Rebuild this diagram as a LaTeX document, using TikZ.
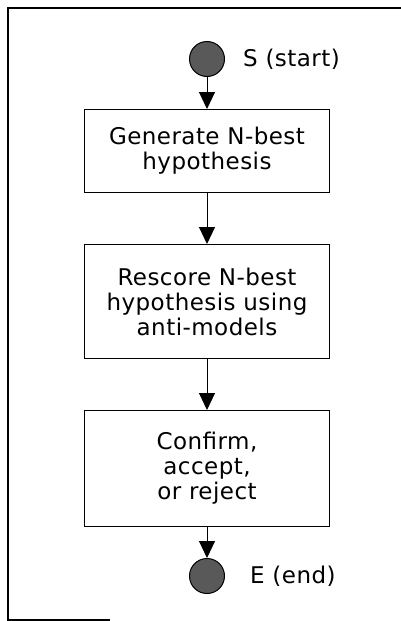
\documentclass[tikz,border=0pt]{standalone}
\usepackage{fontspec}
\usetikzlibrary{positioning,arrows.meta}
\newfontfamily\flowsans{DejaVu Sans}[LetterSpace=2]
\newcommand\flowfont{\flowsans\fontsize{23pt}{25pt}\selectfont}
\tikzset{
  stepbox/.style = {draw, line width=1pt, minimum width=245pt, align=center, font=\flowfont, inner sep=0pt},
  term/.style = {draw, circle, line width=1pt, fill=black!65, minimum size=35pt, inner sep=0pt},
  tag/.style = {font=\flowfont, inner sep=0pt, anchor=west},
  flow/.style = {-{Triangle[length=17pt,width=16pt]}, line width=1pt}
}
\begin{document}
\begin{tikzpicture}
  \useasboundingbox (0,0) rectangle (401pt,-621pt);
  % frame
  \draw[line width=1.3pt] (401pt,-8pt) -- (8pt,-8pt) -- (8pt,-620pt) -- (110pt,-620pt);

  \node[term] (start) at (207pt,-59pt) {};
  \node[tag] (starttag) [right=18pt of start] {S (start)};

  \node[stepbox, minimum height=83pt] (gen) [below=32pt of start] {Generate N-best\\hypothesis};
  \node[stepbox, minimum height=114pt] (rescore) [below=51pt of gen] {Rescore N-best\\hypothesis using\\anti-models};
  \node[stepbox, minimum height=116pt] (decide) [below=51pt of rescore] {Confirm,\\accept,\\or reject};

  \node[term] (end) [below=31pt of decide] {};
  \node[tag] (endtag) [right=25pt of end] {E (end)};

  \draw[flow] (start) -- (gen);
  \draw[flow] (gen) -- (rescore);
  \draw[flow] (rescore) -- (decide);
  \draw[flow] (decide) -- (end);
\end{tikzpicture}
\end{document}
